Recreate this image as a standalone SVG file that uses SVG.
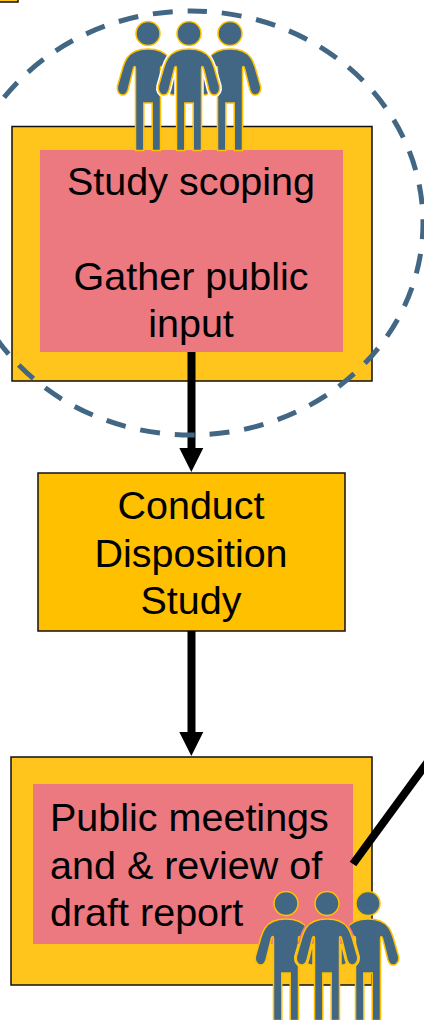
<svg xmlns="http://www.w3.org/2000/svg" width="424" height="1020" viewBox="0 0 424 1020">
<style>
.y{fill:#FFC51C;stroke:#111;stroke-width:1.5}
.o{fill:#FFC000;stroke:#111;stroke-width:1.5}
.p{fill:#EC7880}
text{font-family:"Liberation Sans",Arial,sans-serif;font-size:39.500px;fill:#000;text-anchor:middle}
.l{text-anchor:start}
.c{stroke:#000;stroke-width:8;fill:none}
.h{fill:#000}
.m{fill:#426784;stroke:#FFC000;stroke-width:1.500}
</style>
<defs>
<path id="b" d="M0,49C9,49 17,52 21,58C23,61 24,64 25,67L30.500,86C31.500,91 29,94.500 26,95C23,95.500 21,93 20,90L14.500,68C13.800,66 12.500,66 12.500,68.500V150.500H4.200V103H-4.200V150.500H-12.500V68.500C-12.500,66 -13.800,66 -14.500,68L-20,90C-21,93 -23,95.500 -26,95C-29,94.500 -31.500,91 -30.500,86L-25,67C-24,64 -23,61 -21,58C-17,52 -9,49 0,49Z"/>
<mask id="gap" maskUnits="userSpaceOnUse" x="-80" y="0" width="160" height="160">
<rect x="-80" y="0" width="160" height="160" fill="#fff"/>
<use href="#b" fill="#000" stroke="#000" stroke-width="4.500"/>
</mask>
<g id="people">
<g class="m" mask="url(#gap)"><circle cx="-41" cy="33.500" r="12"/><use href="#b" x="-41"/><circle cx="41" cy="33.500" r="12"/><use href="#b" x="41"/></g>
<g class="m"><circle cx="0" cy="33.500" r="12"/><use href="#b"/></g>
</g>
</defs>
<g id="fragment"><rect class="y" x="-10" y="-10" width="28" height="12"/></g>
<g id="node-scoping">
<rect class="y" x="12" y="126.500" width="360" height="254.500"/>
<rect class="p" x="40" y="150" width="303" height="202"/>
<text x="191" y="195">Study scoping</text>
<text x="191" y="290">Gather public</text>
<text x="191" y="337">input</text>
</g>
<g id="node-study">
<rect class="o" x="38" y="473" width="307" height="158"/>
<text x="191" y="519">Conduct</text>
<text x="191" y="567">Disposition</text>
<text x="191" y="614">Study</text>
</g>
<g id="node-meetings">
<rect class="y" x="11" y="757" width="361" height="228"/>
<rect class="p" x="33" y="784" width="320" height="160"/>
<text class="l" x="50" y="831">Public meetings</text>
<text class="l" x="50" y="879">and &amp; review of</text>
<text class="l" x="50" y="926">draft report</text>
</g>
<g id="connectors">
<path class="c" d="M191.500,352V450"/>
<path class="h" d="M179.300,448H203.300L191.300,472Z"/>
<path class="c" d="M191.500,631V734"/>
<path class="h" d="M179.300,732H203.300L191.300,756Z"/>
<path class="c" d="M428,761.500L353,864"/>
</g>
<g id="people-top"><use href="#people" x="189"/></g>
<g id="people-bottom"><use href="#people" x="327" y="870"/></g>
<g id="scope-ring"><path d="M191,11A232,212 0 1 1 191,435A232,212 0 1 1 191,11Z" fill="none" stroke="#426784" stroke-width="5" stroke-dasharray="20 14.890" stroke-dashoffset="4"/></g>
</svg>
